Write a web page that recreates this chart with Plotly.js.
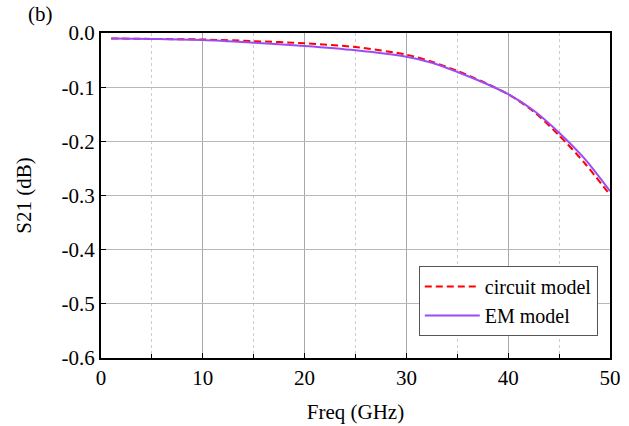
<!DOCTYPE html>
<html>
<head>
<meta charset="utf-8">
<script src="https://cdn.plot.ly/plotly-3.0.1.min.js"></script>
<style>
html,body{margin:0;padding:0;background:#fff;}
#chart{width:629px;height:426px;}
</style>
</head>
<body>
<div id="chart"></div>
<script>
const freq = [1, 5, 10, 15, 20, 25, 30, 32.5, 35, 37.5, 40, 42.5, 45, 47.5, 50];
const circuitModel = [-0.010, -0.011, -0.012, -0.015, -0.019, -0.026, -0.040, -0.053, -0.070, -0.090, -0.113, -0.145, -0.189, -0.240, -0.299];
const emModel = [-0.010, -0.011, -0.013, -0.018, -0.024, -0.032, -0.044, -0.055, -0.072, -0.091, -0.113, -0.143, -0.184, -0.232, -0.292];
const xTicks = [0, 10, 20, 30, 40, 50];
const yTicks = [0.0, -0.1, -0.2, -0.3, -0.4, -0.5, -0.6];
const yTickText = ['0.0', '-0.1', '-0.2', '-0.3', '-0.4', '-0.5', '-0.6'];

const font = {family: 'Liberation Serif, Times New Roman, serif', size: 21, color: '#000'};

const traces = [
  {x: freq, y: circuitModel, name: 'circuit model', mode: 'lines',
   line: {color: '#ff0000', width: 2, dash: '7px,4px', shape: 'spline', smoothing: 0.8}},
  {x: freq, y: emModel, name: 'EM model', mode: 'lines',
   line: {color: '#9b4cf2', width: 2, shape: 'spline', smoothing: 0.8}}
];

const layout = {
  width: 629, height: 426,
  margin: {l: 101, r: 19, t: 33, b: 68},
  paper_bgcolor: '#fff', plot_bgcolor: '#fff',
  font: font,
  showlegend: true,
  legend: {x: 0.976, y: 0.283, xanchor: 'right', yanchor: 'top',
    bgcolor: '#fff', bordercolor: '#555', borderwidth: 1,
    itemwidth: 55,
    font: {family: font.family, size: 20, color: '#000'}, tracegroupgap: 0},
  xaxis: {
    range: [0, 50], tickvals: xTicks, ticktext: xTicks.map(String),
    ticks: 'inside', ticklen: 5, tickcolor: '#000', tickwidth: 1,
    showline: true, linecolor: '#000', linewidth: 2, mirror: true,
    showgrid: true, gridcolor: '#a8a8a8', gridwidth: 1,
    minor: {dtick: 5, tick0: 5, ticks: 'inside', ticklen: 4, tickcolor: '#000',
            showgrid: true, gridcolor: '#cccccc', griddash: 'dot', gridwidth: 1},
    zeroline: false,
    title: {text: 'Freq (GHz)', font: font, standoff: 15},
    tickfont: font
  },
  yaxis: {
    range: [-0.6, 0], tickvals: yTicks, ticktext: yTickText,
    ticks: 'inside', ticklen: 5, tickcolor: '#000', tickwidth: 1,
    showline: true, linecolor: '#000', linewidth: 2, mirror: true,
    showgrid: true, gridcolor: '#b8b8b8', gridwidth: 1,
    zeroline: false,
    title: {text: 'S21 (dB)', font: font, standoff: 24},
    tickfont: font
  },
  annotations: [
    {text: '(b)', xref: 'paper', yref: 'paper', x: -0.147, y: 1.058,
     xanchor: 'left', yanchor: 'middle', showarrow: false, font: font}
  ]
};

Plotly.newPlot('chart', traces, layout, {staticPlot: true, displayModeBar: false});
</script>
</body>
</html>
